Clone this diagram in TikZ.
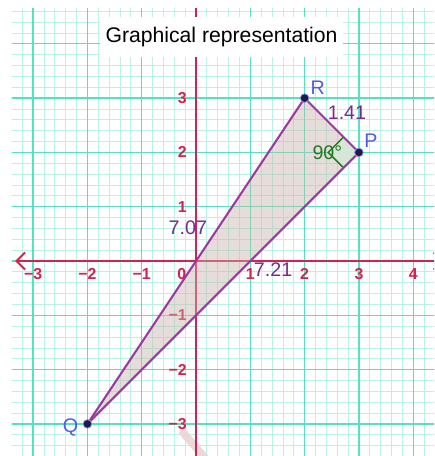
\documentclass[tikz,border=0pt]{standalone}
\usepackage{fontspec}
\setmainfont{Liberation Sans}
\usetikzlibrary{arrows.meta, calc}
\definecolor{ggbGridMajor}{HTML}{52E3BF}
\definecolor{ggbGridMinor}{HTML}{B8F4E4}
\definecolor{ggbAxis}{HTML}{D42250}
\definecolor{ggbPurple}{HTML}{9A3A9E}
\definecolor{ggbLabel}{HTML}{7B2A8C}
\definecolor{ggbFill}{HTML}{C9B5AD}
\definecolor{ggbBlue}{HTML}{4D5BEA}
\definecolor{ggbGreen}{HTML}{237A23}
\definecolor{ggbDot}{HTML}{1C1C40}
\definecolor{ggbGrey}{HTML}{EBD8D8}

\begin{document}
\begin{tikzpicture}[
    x=1cm, y=1cm,
    every node/.style={font=\rmfamily},
    % --- grid and axes ---
    minorgrid/.style={draw=ggbGridMinor, line width=0.4pt},
    majorgrid/.style={draw=ggbGridMajor, line width=0.7pt},
    axis/.style={draw=ggbAxis, line width=1pt,
                 {Straight Barb[length=4.5pt, width=9pt]}-{Straight Barb[length=4.5pt, width=9pt]}},
    yaxis/.style={draw=ggbAxis, line width=1pt},
    tick/.style={text=ggbAxis, inner sep=1pt,
                 font=\bfseries\fontsize{8.3}{9.8}\selectfont},
    % --- triangle ---
    tri/.style={fill=ggbFill, fill opacity=0.45},
    edge/.style={draw=ggbPurple, line width=1.1pt, line cap=round},
    vertex/.style={circle, fill=ggbDot, draw=ggbBlue!70, line width=0.4pt,
                   minimum size=4.5pt, inner sep=0pt},
    ptlabel/.style={text=ggbBlue, inner sep=0pt,
                    font=\fontsize{10.3}{12}\selectfont},
    lenlabel/.style={text=ggbLabel, inner sep=0pt,
                     font=\fontsize{10.3}{12}\selectfont},
    rightmark/.style={draw=ggbGreen, line width=0.8pt, fill=ggbGreen!18},
    anglabel/.style={text=ggbGreen, inner sep=0pt,
                     font=\fontsize{10.3}{12}\selectfont},
    titlebox/.style={fill=white, minimum width=4.475cm, minimum height=0.74cm,
                     inner sep=0pt, font=\fontsize{11.1}{13}\selectfont},
]

\useasboundingbox (-3.61,-3.591) rectangle (4.383,4.807);
\fill[white] (-3.61,-3.591) rectangle (4.383,4.807);

% ===== GRID AND AXES ========================================================

\begin{scope}
\clip (-3.39,-3.591) rectangle (4.383,4.659);
\draw[minorgrid] (-3.6,-3.8) grid[step=0.2] (4.6,4.8);
\draw[majorgrid] (-3.6,-3.8) grid[step=1] (4.6,4.8);

% -- smudge below Q --
\draw[draw=ggbGrey, line width=4pt, line cap=round] (-0.24,-3.16) -- (0.25,-3.72);

% -- axes --
\coordinate (xmin) at (-3.33,0);
\coordinate (xmax) at (4.56,0);
\coordinate (ymin) at (0,-3.8);
\coordinate (ymax) at (0,4.8);
\draw[axis] (xmin) -- (xmax);
\draw[yaxis] (ymin) -- (ymax);
\end{scope}

% -- tick labels --
\foreach \x/\t [count=\i] in {-3/−3, -2/−2, -1/−1, 1/1, 2/2, 3/3, 4/4}
    \node[tick, anchor=north] (xtick\i) at (\x,-0.1) {\t};
\node[tick, anchor=north] (xtick0) at (-0.26,-0.1) {0};
\foreach \y/\t [count=\i] in {3/3, 2/2, 1/1, -1/−1, -2/−2, -3/−3}
    \node[tick, anchor=east] (ytick\i) at (-0.13,\y) {\t};


% ===== TRIANGLE PQR =========================================================

\coordinate (P) at (3,2);
\coordinate (Q) at (-2,-3);
\coordinate (R) at (2,3);

\fill[tri] (P) -- (Q) -- (R) -- cycle;

% -- right angle at P --
\coordinate (mr) at ($(P)!0.4cm!(R)$);
\coordinate (mq) at ($(P)!0.4cm!(Q)$);
\coordinate (mc) at ($(mr)+(mq)-(P)$);
\fill[rightmark, draw=none] (P) -- (mr) -- (mc) -- (mq) -- cycle;
\draw[rightmark, fill=none] (mr) -- (mc) -- (mq);

% -- sides --
\draw[edge] (R) -- (P);
\draw[edge] (P) -- (Q);
\draw[edge] (Q) -- (R);

% -- vertices --
\node[vertex] (Pdot) at (P) {};
\node[vertex] (Qdot) at (Q) {};
\node[vertex] (Rdot) at (R) {};
\node[ptlabel] (Plbl) at (3.22,2.21) {P};
\node[ptlabel] (Qlbl) at (-2.31,-3.07) {Q};
\node[ptlabel] (Rlbl) at (2.24,3.2) {R};

% -- measures --
\node[lenlabel] (lenRP) at (2.78,2.73) {1.41};
\node[lenlabel] (lenPQ) at (-0.15,0.61) {7.07};
\node[lenlabel] (lenQR) at (1.42,-0.16) {7.21};
\node[anglabel] (angP) at (2.42,2.0) {90°};


% ===== TITLE ================================================================
\node[titlebox] (title) at (0.47,4.125) {Graphical representation};

\end{tikzpicture}
\end{document}
